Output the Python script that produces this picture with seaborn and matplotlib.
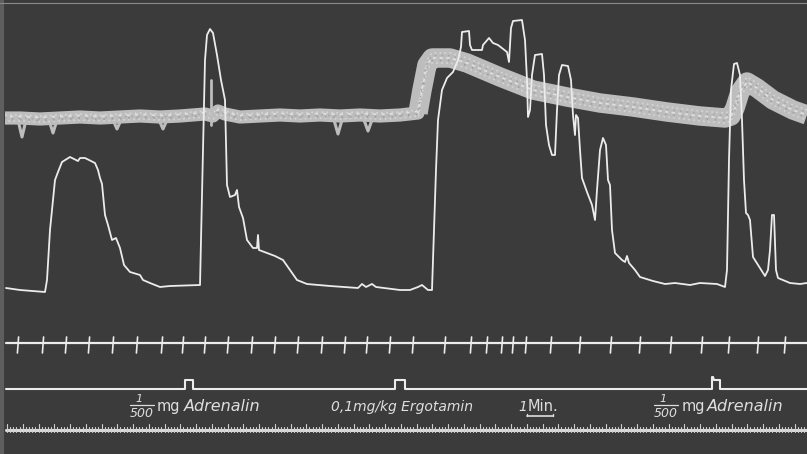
import numpy as np
import pandas as pd
import matplotlib
matplotlib.use("Agg")
import matplotlib.pyplot as plt
import seaborn as sns

# ---------------- data (traced in image pixel coordinates) ----------------
# lower trace (thin white pen)
low_x = [6, 20, 45, 47, 50, 55, 58, 62, 70, 78, 80, 85, 95, 98, 100, 102, 105, 108, 112, 116, 120,
         124, 130, 140, 143, 150, 160, 170, 200, 203, 205, 207, 210, 213, 217, 221, 225, 227, 230,
         235, 237, 239, 243, 247, 253, 257, 258, 259, 267, 275, 283, 290, 297, 307, 330, 358, 362,
         366, 372, 376, 400, 410, 418, 422, 428, 432, 434, 436, 438, 442, 447, 453, 458, 461, 462,
         469, 470, 472, 482, 483, 489, 493, 498, 507, 509, 511, 513, 522, 525, 527, 528, 530, 532,
         535, 542, 544, 546, 549, 552, 555, 557, 559, 562, 568, 571, 573, 575, 576, 578, 580, 582,
         587, 592, 595, 597, 600, 603, 606, 608, 610, 612, 615, 622, 625, 627, 629, 635, 640, 653,
         665, 675, 690, 700, 717, 725, 727, 729, 731, 734, 737, 740, 742, 744, 746, 748, 750, 753,
         760, 765, 768, 770, 772, 774, 776, 778, 790, 800, 807]
low_y = [288, 290, 292, 280, 230, 180, 172, 162, 157, 161, 158, 158, 163, 170, 178, 184, 215, 225,
         240, 238, 248, 265, 272, 275, 280, 283, 287, 286, 285, 150, 60, 35, 29, 33, 55, 80, 100,
         185, 197, 195, 190, 207, 218, 240, 248, 248, 235, 250, 253, 256, 260, 270, 280, 284, 286,
         288, 284, 287, 284, 287, 290, 290, 287, 285, 290, 290, 230, 170, 120, 90, 78, 72, 60, 47,
         32, 31, 45, 50, 50, 45, 38, 43, 45, 52, 62, 28, 21, 20, 40, 80, 117, 110, 75, 55, 54, 75,
         125, 145, 155, 155, 110, 75, 65, 66, 80, 115, 135, 115, 118, 150, 178, 192, 205, 220, 190,
         150, 138, 145, 180, 185, 230, 253, 260, 262, 256, 263, 270, 277, 281, 284, 283, 285, 283,
         284, 287, 270, 160, 90, 64, 63, 75, 120, 180, 213, 215, 220, 257, 268, 276, 270, 250, 215,
         215, 270, 278, 283, 284, 283]

# upper trace (broad grey band) centre line
band_x = [5, 20, 40, 60, 80, 100, 120, 140, 160, 180, 205, 213, 218, 225, 240, 260, 280, 300, 320,
          340, 360, 380, 400, 418, 422, 427, 432, 450, 467, 500, 533, 567, 600, 633, 667, 700, 725,
          731, 735, 740, 747, 757, 773, 793, 807]
band_y = [118, 118, 119, 118, 117, 118, 117, 116, 117, 116, 114, 116, 111, 114, 117, 116, 115, 116,
          115, 116, 115, 116, 115, 113, 90, 65, 58, 58, 63, 77, 90, 97, 103, 107, 112, 116, 118,
          116, 108, 92, 82, 88, 100, 110, 115]
# narrow downward dips of the band: (x, depth y)
dip_x = [22, 53, 117, 163, 338, 368]
dip_y = [137, 133, 129, 129, 134, 131]
spike_x = [211, 211]
spike_y = [125, 80]

# time-signal marks (upper signal line)
time_marks = [18, 43, 66, 89, 113, 137, 162, 183, 205, 228, 252, 275, 298, 322, 345, 367, 390,
              413, 445, 471, 487, 502, 513, 526, 551, 580, 611, 640, 671, 702, 729, 758, 785]

# injection signal line (steps)
inj_x = [6, 185, 185, 193, 193, 395, 395, 405, 405, 712, 712, 713, 714, 714, 720, 720, 807]
inj_y = [389, 389, 380, 380, 389, 389, 380, 380, 389, 389, 377, 377, 380, 380, 380, 389, 389]

# labels
labels = ["mg", "Adrenalin", "0,1mg/kg Ergotamin", "Min.", "mg", "Adrenalin"]
label_x = [157, 184, 331, 528, 682, 707]
label_italic = [False, True, True, False, False, True]
frac_x = [130, 654]

# ---------------- drawing ----------------
sns.set_theme(style="dark")
bg = "#3b3b3b"
pen = "#ececec"
band_col = "#bdbdbd"

fig = plt.figure(figsize=(8.07, 4.54), dpi=100, facecolor=bg)
ax = fig.add_axes([0, 0, 1, 1])
ax.set_facecolor(bg)

df_band = pd.DataFrame({"x": band_x, "y": band_y})
left = df_band[df_band.x <= 422]
right = df_band[df_band.x >= 418]

# upper band
sns.lineplot(data=left, x="x", y="y", sort=False, estimator=None, ax=ax,
             color=band_col, lw=9.5, solid_capstyle="butt")
sns.lineplot(data=right, x="x", y="y", sort=False, estimator=None, ax=ax,
             color=band_col, lw=14, solid_capstyle="butt")
# dips
for dx, dy in zip(dip_x, dip_y):
    ax.plot([dx - 4, dx, dx + 4], [120, dy, 120], color=band_col, lw=2.2)
# grain on the band
for off, col, ls in [(-3, "#d6d6d6", (0, (1, 2))), (0, "#a8a8a8", (0, (1, 3))),
                     (3, "#d6d6d6", (1, (1, 2))), (-1.5, "#e0e0e0", (2, (2, 3))),
                     (1.5, "#a0a0a0", (1, (1, 4)))]:
    ax.plot(left.x, left.y + off, color=col, lw=1.2, ls=ls)
for off, col, ls in [(-5, "#d6d6d6", (0, (1, 2))), (-2.5, "#a8a8a8", (0, (1, 3))),
                     (0, "#e0e0e0", (1, (2, 2))), (2.5, "#a0a0a0", (1, (1, 4))),
                     (5, "#d6d6d6", (2, (1, 2)))]:
    ax.plot(right.x, right.y + off, color=col, lw=1.2, ls=ls)
sns.lineplot(x=spike_x, y=spike_y, sort=False, estimator=None, ax=ax, color=band_col, lw=2)

# lower trace
sns.lineplot(x=low_x, y=low_y, sort=False, estimator=None, ax=ax, color=pen, lw=1.3)

# time signal line
ax.plot([6, 807], [343, 343], color=pen, lw=1.6)
for t in time_marks:
    ax.plot([t + 0.6, t - 0.6], [337, 353], color=pen, lw=1.2)

# injection line
sns.lineplot(x=inj_x, y=inj_y, sort=False, estimator=None, ax=ax, color=pen, lw=1.5)

# bottom ruler
ax.plot([6, 807], [430, 430], color="#dadada", lw=2.2)
for i, t in enumerate(np.arange(7, 807, 3.15)):
    top = 424 if i % 5 == 0 else 426.5
    ax.plot([t, t], [top, 432], color="#d0d0d0", lw=0.8)

# labels
txt_col = "#dedede"
sizes = [10.5, 11.5, 10, 10.5, 10.5, 11.5]
for s, x, it, fs in zip(labels, label_x, label_italic, sizes):
    ax.text(x, 411, s, color=txt_col, fontsize=fs, style="italic" if it else "normal",
            ha="left", va="baseline")
for fx in frac_x:
    ax.text(fx + 9, 402, "1", color=txt_col, fontsize=8, style="italic", ha="center", va="baseline")
    ax.plot([fx, fx + 24], [405, 405], color=txt_col, lw=0.9)
    ax.text(fx + 12, 417, "500", color=txt_col, fontsize=9, style="italic", ha="center", va="baseline")
ax.text(523, 411, "1", color=txt_col, fontsize=10, style="italic", ha="center", va="baseline")
ax.plot([527, 553], [416, 416], color=txt_col, lw=1.2)
ax.plot([527, 527], [414, 416], color=txt_col, lw=1.0)
ax.plot([553, 553], [414, 416], color=txt_col, lw=1.0)

# frame edges of the photograph
ax.plot([1.5, 1.5], [0, 454], color="#5e5e5e", lw=3)
ax.plot([0, 807], [3, 3], color="#8a8a8a", lw=0.8)

ax.set_xlim(0, 807)
ax.set_ylim(454, 0)
ax.axis("off")
fig.savefig("out.png", dpi=100, facecolor=bg)
